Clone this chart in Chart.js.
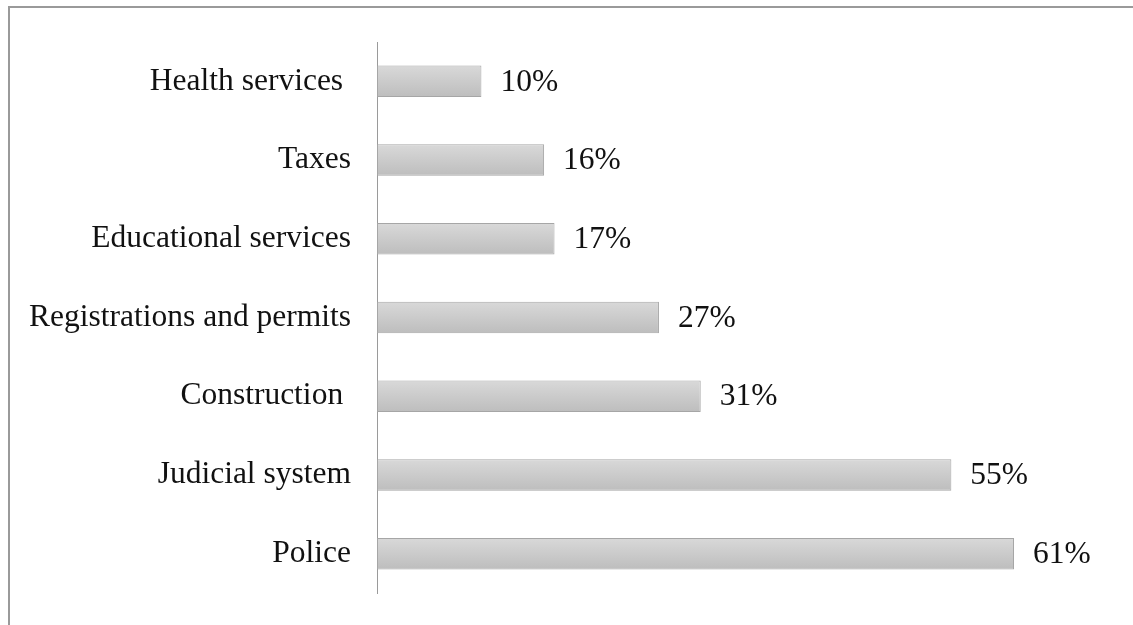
<!DOCTYPE html>
<html>
<head>
<meta charset="utf-8">
<script src="https://cdn.jsdelivr.net/npm/chart.js@4"></script>
<style>
  html, body { margin: 0; padding: 0; background: #fff; width: 1133px; height: 625px; overflow: hidden; }
  #frame { position: absolute; left: 8px; top: 6px; width: 1200px; height: 700px;
           border-top: 2px solid #9a9a9a; border-left: 2px solid #9a9a9a; }
  #c { position: absolute; left: 0; top: 0; }
</style>
</head>
<body>
<div id="frame"></div>
<canvas id="c" width="1133" height="625"></canvas>
<script>
const categories = ["Health services ", "Taxes", "Educational services", "Registrations and permits", "Construction ", "Judicial system", "Police"];
const values = [10, 16, 17, 27, 31, 55, 61];
const valueLabels = ["10%", "16%", "17%", "27%", "31%", "55%", "61%"];

const FONT = "'Liberation Serif', 'Times New Roman', serif";
const FONT_SIZE = 31.5;

const labelPlugin = {
  id: 'valueLabels',
  afterDatasetsDraw(chart) {
    const ctx = chart.ctx;
    const meta = chart.getDatasetMeta(0);
    ctx.save();
    ctx.font = FONT_SIZE + "px " + FONT;
    ctx.fillStyle = "#111";
    ctx.textAlign = "left";
    ctx.textBaseline = "middle";
    meta.data.forEach((el, i) => {
      ctx.fillText(valueLabels[i], el.x + 19, el.y + 1);
    });
    ctx.restore();
  }
};

function barFill(c) {
  const chart = c.chart;
  const ys = chart.scales.y;
  if (!ys || c.dataIndex == null) return "#c9c9c9";
  const cy = ys.getPixelForValue(c.dataIndex);
  if (!isFinite(cy)) return "#c9c9c9";
  const g = chart.ctx.createLinearGradient(0, cy - 16, 0, cy + 16);
  g.addColorStop(0, "#d9d9d9");
  g.addColorStop(1, "#bdbdbd");
  return g;
}

new Chart(document.getElementById("c"), {
  type: "bar",
  data: {
    labels: categories,
    datasets: [{
      data: values,
      backgroundColor: barFill,
      borderColor: "#a6a6a6",
      borderWidth: 1,
      borderSkipped: false,
      categoryPercentage: 1.0,
      barPercentage: 0.4
    }]
  },
  options: {
    indexAxis: "y",
    responsive: false,
    animation: false,
    layout: { padding: { top: 42, bottom: 32, left: 0, right: 25 } },
    plugins: { legend: { display: false }, tooltip: { enabled: false } },
    scales: {
      x: { display: false, min: 0, max: 70 },
      y: {
        grid: { display: false, drawTicks: false },
        border: { display: true, color: "#9a9a9a", width: 1 },
        ticks: { color: "#111", padding: 26, font: { family: FONT, size: FONT_SIZE } },
        afterFit(scale) {
          scale.width = 377;
          scale.paddingTop = 0;
          scale.paddingBottom = 0;
        }
      }
    }
  },
  plugins: [labelPlugin]
});
</script>
</body>
</html>
